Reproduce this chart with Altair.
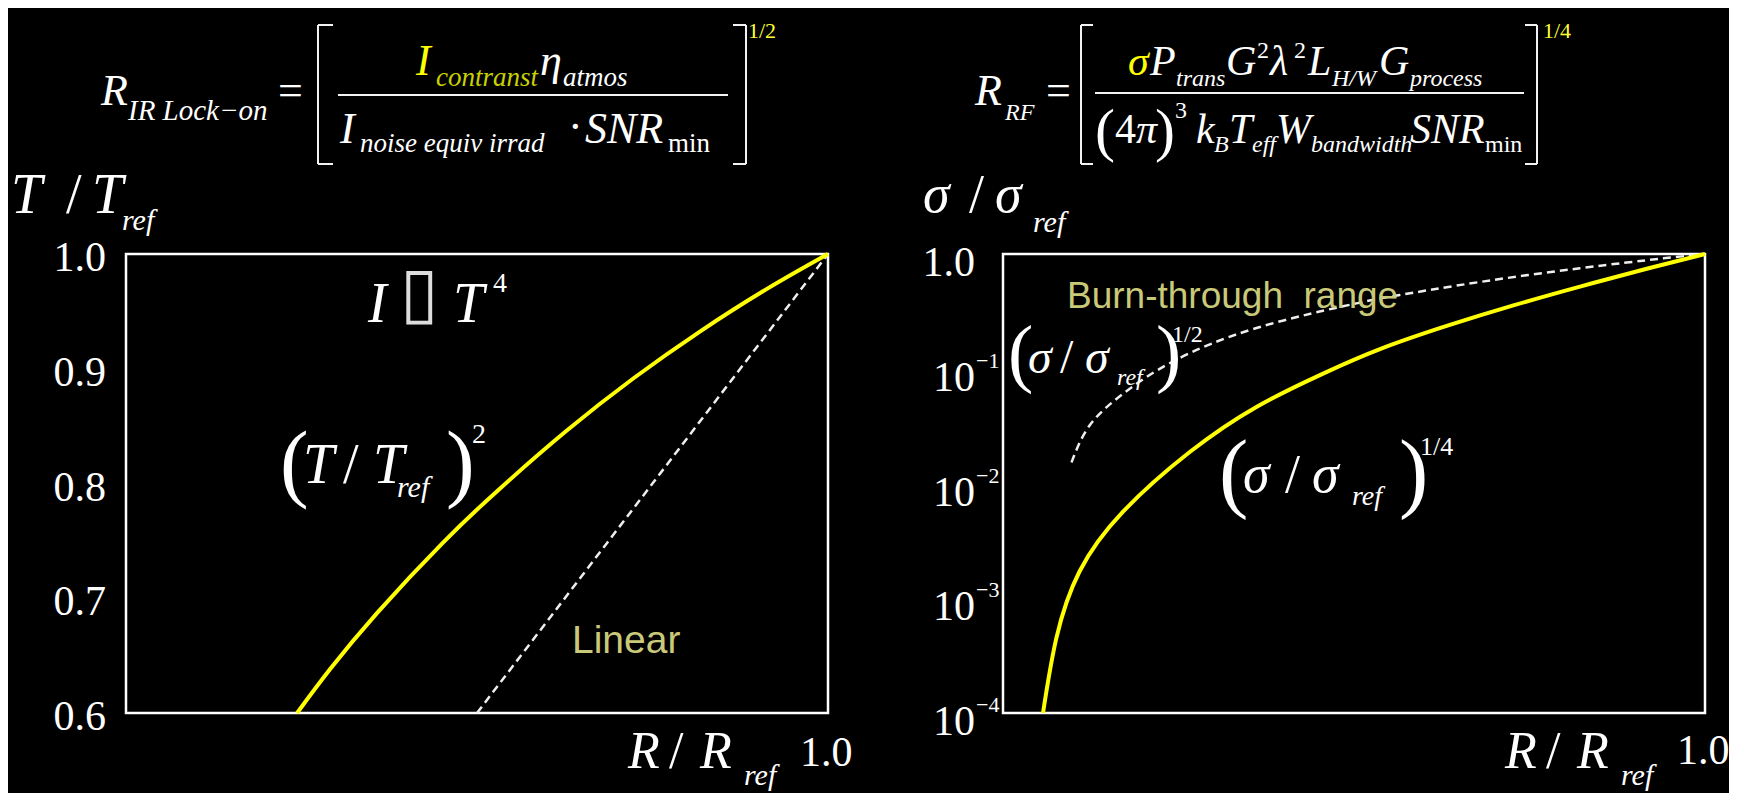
import altair as alt
import pandas as pd

# ---------------- values ----------------
# Left panel: T/Tref against R/Rref (IR lock-on)
ir_R = [0.395, 0.432, 0.486, 0.561, 0.626, 0.702, 0.778, 0.854, 0.930, 1.0]
ir_T = [0.600, 0.6376, 0.6871, 0.7483, 0.7955, 0.8459, 0.8915, 0.9324, 0.9694, 1.0]
lin_R = [0.6, 1.0]
lin_T = [0.6, 1.0]
ir_ticks = [0.6, 0.7, 0.8, 0.9, 1.0]
ir_tick_labels = ["0.6", "0.7", "0.8", "0.9", "1.0"]

# Right panel: sigma/sigma_ref against R/Rref (RF)
rf_R = [0.057, 0.076, 0.109, 0.171, 0.266, 0.361, 0.456, 0.537, 0.632, 0.727, 0.822, 0.917, 1.0]
rf_sigma = [1e-4, 4.49e-4, 1.71e-3, 5.68e-3, 1.88e-2, 4.65e-2, 9.08e-2, 0.1483, 0.236, 0.3565, 0.520, 0.743, 1.0]
bt_R = [0.0975, 0.1236, 0.171, 0.2423, 0.3611, 0.5036, 0.5653, 0.6793, 0.8219, 0.9406, 1.0]
bt_sigma = [0.01524, 0.0322, 0.0605, 0.1159, 0.2265, 0.3715, 0.4395, 0.5702, 0.7516, 0.9162, 1.0]
rf_ticks = [1.0, 1e-1, 1e-2, 1e-3, 1e-4]
rf_tick_base = ["1.0", "10", "10", "10", "10"]
rf_exp_ticks = [1e-1, 1e-2, 1e-3, 1e-4]
rf_exp_labels = ["\u22121", "\u22122", "\u22123", "\u22124"]

# x-axis end labels
x_end = [1.0]
x_end_label = ["1.0"]

# ---------------- styling / layout ----------------
SERIF = "Liberation Serif"
SANS = "Liberation Sans"
W = "#ffffff"
Y = "#ffff00"
KHAKI = "#c9c97a"
OX, OY = 126, 254          # page position of the plot area origin
PW, PH = 1579, 459

XL = alt.Scale(domain=[0.2, 1.0], range=[0, 702], nice=False, zero=False)
YL = alt.Scale(domain=[0.6, 1.0], nice=False, zero=False)
XR = alt.Scale(domain=[0.0, 1.0], range=[877, 1579], nice=False, zero=False)
YR = alt.Scale(type="log", domain=[1e-4, 1.0], nice=False)


def xy(xf, yf, xs, ys):
    return dict(x=alt.X(xf, scale=xs, axis=None), y=alt.Y(yf, scale=ys, axis=None))


# ---------- left panel ----------
frameL = alt.Chart(pd.DataFrame({"x": [0.2], "x2": [1.0], "y": [0.6], "y2": [1.0]})).mark_rect(
    fill="transparent", stroke=W, strokeWidth=2.5
).encode(**xy("x:Q", "y:Q", XL, YL), x2="x2:Q", y2="y2:Q")

curveL = alt.Chart(pd.DataFrame({"R": ir_R, "T": ir_T})).mark_line(
    color=Y, strokeWidth=4, interpolate="natural"
).encode(**xy("R:Q", "T:Q", XL, YL))

linL = alt.Chart(pd.DataFrame({"R": lin_R, "T": lin_T})).mark_line(
    color="#eeeeee", strokeWidth=2.5, strokeDash=[8, 5]
).encode(**xy("R:Q", "T:Q", XL, YL))

ticksL = alt.Chart(pd.DataFrame({"x": [0.2] * len(ir_ticks), "y": ir_ticks, "t": ir_tick_labels})).mark_text(
    font=SERIF, fontSize=42, color=W, align="right", baseline="middle", dx=-20, dy=4
).encode(**xy("x:Q", "y:Q", XL, YL), text="t:N")

endL = alt.Chart(pd.DataFrame({"x": x_end, "y": [0.6], "t": x_end_label})).mark_text(
    font=SERIF, fontSize=42, color=W, align="left", baseline="alphabetic", dx=-28, dy=53
).encode(**xy("x:Q", "y:Q", XL, YL), text="t:N")

left = alt.layer(frameL, linL, curveL, ticksL, endL)

# ---------- right panel ----------
frameR = alt.Chart(pd.DataFrame({"x": [0.0], "x2": [1.0], "y": [1e-4], "y2": [1.0]})).mark_rect(
    fill="transparent", stroke=W, strokeWidth=2.5
).encode(**xy("x:Q", "y:Q", XR, YR), x2="x2:Q", y2="y2:Q")

curveR = alt.Chart(pd.DataFrame({"R": rf_R, "s": rf_sigma})).mark_line(
    color=Y, strokeWidth=4, interpolate="natural"
).encode(**xy("R:Q", "s:Q", XR, YR))

dashR = alt.Chart(pd.DataFrame({"R": bt_R, "s": bt_sigma})).mark_line(
    color="#eeeeee", strokeWidth=2.5, strokeDash=[8, 5], interpolate="natural"
).encode(**xy("R:Q", "s:Q", XR, YR))

ticksR = alt.Chart(pd.DataFrame({"x": [0.0] * len(rf_ticks), "y": rf_ticks, "t": rf_tick_base})).mark_text(
    font=SERIF, fontSize=42, color=W, align="right", baseline="middle", dx=-28, dy=9
).encode(**xy("x:Q", "y:Q", XR, YR), text="t:N")

expR = alt.Chart(pd.DataFrame({"x": [0.0] * len(rf_exp_ticks), "y": rf_exp_ticks, "t": rf_exp_labels})).mark_text(
    font=SERIF, fontSize=22, color=W, align="left", baseline="middle", dx=-27, dy=-8
).encode(**xy("x:Q", "y:Q", XR, YR), text="t:N")

endR = alt.Chart(pd.DataFrame({"x": x_end, "y": [1e-4], "t": x_end_label})).mark_text(
    font=SERIF, fontSize=42, color=W, align="left", baseline="alphabetic", dx=-28, dy=51
).encode(**xy("x:Q", "y:Q", XR, YR), text="t:N")

right = alt.layer(frameR, dashR, curveR, ticksR, expR, endR)

# ---------- annotation text (page positions, baseline) ----------
italic_rows = [
    # left formula
    ("R", 101, 105, 44, W), ("IR Lock\u2212on", 128, 120, 29, W),
    ("I", 416, 75, 44, Y), ("contranst", 436, 86, 27, "#c8d200"),
    ("\u03b7", 540, 75, 44, W), ("atmos", 563, 86, 27, W),
    ("I", 340, 143, 44, W), ("noise equiv irrad", 360, 152, 27, W),
    ("SNR", 585, 143, 44, W),
    # right formula
    ("R", 975, 105, 44, W), ("RF", 1005, 120, 24, W),
    ("\u03c3", 1128, 75, 42, Y), ("P", 1150, 75, 42, W), ("trans", 1176, 86, 24, W),
    ("G", 1226, 75, 42, W), ("\u03bb", 1270, 75, 42, W), ("L", 1308, 75, 42, W),
    ("H/W", 1332, 86, 24, W), ("G", 1379, 75, 42, W), ("process", 1410, 86, 24, W),
    ("\u03c0", 1136, 143, 42, W), ("k", 1196, 143, 42, W), ("B", 1214, 152, 24, W),
    ("T", 1229, 143, 42, W), ("eff", 1252, 152, 24, W), ("W", 1276, 143, 42, W),
    ("bandwidth", 1311, 152, 24, W), ("SNR", 1410, 143, 42, W),
    # axis titles
    ("T", 11, 213, 56, W), ("T", 92, 213, 56, W), ("ref", 122, 230, 30, W),
    ("\u03c3", 923, 212, 54, W), ("\u03c3", 995, 212, 54, W), ("ref", 1033, 232, 30, W),
    ("R", 628, 768, 52, W), ("R", 700, 768, 52, W), ("ref", 744, 785, 30, W),
    ("R", 1505, 768, 52, W), ("R", 1577, 768, 52, W), ("ref", 1621, 785, 30, W),
    # in-plot formulas
    ("I", 368, 322, 56, W), ("T", 453, 322, 56, W),
    ("T", 303, 483, 56, W), ("T", 373, 483, 56, W), ("ref", 397, 497, 30, W),
    ("\u03c3", 1028, 373, 48, W), ("\u03c3", 1085, 373, 48, W), ("ref", 1117, 385, 24, W),
    ("\u03c3", 1243, 492, 54, W), ("\u03c3", 1312, 492, 54, W), ("ref", 1352, 505, 28, W),
]
upright_rows = [
    ("=", 278, 105, 44, W), ("\u00b7", 568, 141, 44, W), ("min", 668, 152, 27, W),
    ("1/2", 748, 38, 22, "#ffff33"),
    ("=", 1046, 105, 44, W), ("2", 1257, 58, 24, W), ("2", 1294, 58, 24, W),
    ("(", 1095, 150, 60, W), ("4", 1115, 143, 42, W), (")", 1155, 150, 60, W),
    ("3", 1175, 118, 24, W), ("min", 1485, 152, 24, W), ("1/4", 1543, 38, 22, "#ffff33"),
    ("/", 66, 213, 56, W), ("/", 969, 212, 54, W),
    ("/", 669, 768, 52, W), ("/", 1546, 768, 52, W),
    ("\u25af", 400, 316, 70, "#dddddd"), ("4", 493, 292, 28, W),
    ("(", 280, 491, 86, W), ("/", 343, 483, 56, W), (")", 446, 491, 86, W), ("2", 472, 443, 28, W),
    ("(", 1008, 378, 76, W), ("/", 1060, 373, 48, W), (")", 1156, 378, 76, W), ("1/2", 1172, 342, 24, W),
    ("(", 1219, 501, 88, W), ("/", 1285, 492, 54, W), (")", 1399, 501, 88, W), ("1/4", 1420, 455, 26, W),
]
sans_rows = [
    ("Burn-through\u00a0 range", 1067, 308, 37, KHAKI),
    ("Linear", 572, 653, 39, KHAKI),
]
# bracket and fraction strokes (page positions)
rule_rows = [
    (318, 25, 318, 164), (318, 25, 333, 25), (318, 164, 333, 164),
    (746, 25, 746, 164), (733, 25, 746, 25), (733, 164, 746, 164),
    (338, 95, 728, 95),
    (1081, 25, 1081, 164), (1081, 25, 1093, 25), (1081, 164, 1093, 164),
    (1537, 25, 1537, 164), (1525, 25, 1537, 25), (1525, 164, 1537, 164),
    (1095, 93, 1524, 93),
]


def text_layer(rows, font, style):
    df = pd.DataFrame(rows, columns=["t", "px", "py", "fs", "col"])
    df["px"] = df["px"] - OX
    df["py"] = df["py"] - OY
    return alt.Chart(df).mark_text(font=font, fontStyle=style, align="left", baseline="alphabetic").encode(
        x=alt.X("px:Q", scale=None, axis=None),
        y=alt.Y("py:Q", scale=None, axis=None),
        text="t:N",
        size=alt.Size("fs:Q", scale=None, legend=None),
        color=alt.Color("col:N", scale=None, legend=None),
    )


rdf = pd.DataFrame(rule_rows, columns=["a", "b", "c", "d"])
rdf["a"] -= OX
rdf["c"] -= OX
rdf["b"] -= OY
rdf["d"] -= OY
rules = alt.Chart(rdf).mark_rule(color="#f2f2f2", strokeWidth=2).encode(
    x=alt.X("a:Q", scale=None, axis=None), y=alt.Y("b:Q", scale=None, axis=None), x2="c:Q", y2="d:Q"
)

notes = alt.layer(
    rules,
    text_layer(italic_rows, SERIF, "italic"),
    text_layer(upright_rows, SERIF, "normal"),
    text_layer(sans_rows, SANS, "normal"),
)

chart = (
    alt.layer(left, right, notes)
    .resolve_scale(x="independent", y="independent")
    .properties(
        width=PW,
        height=PH,
        padding={"left": OX - 8, "top": OY - 8, "right": 24, "bottom": 80},
        autosize=alt.AutoSizeParams(type="none"),
    )
    .configure(background="black")
    .configure_view(strokeWidth=0)
)

chart.save("out.html", embed_options={"renderer": "svg", "actions": False})
